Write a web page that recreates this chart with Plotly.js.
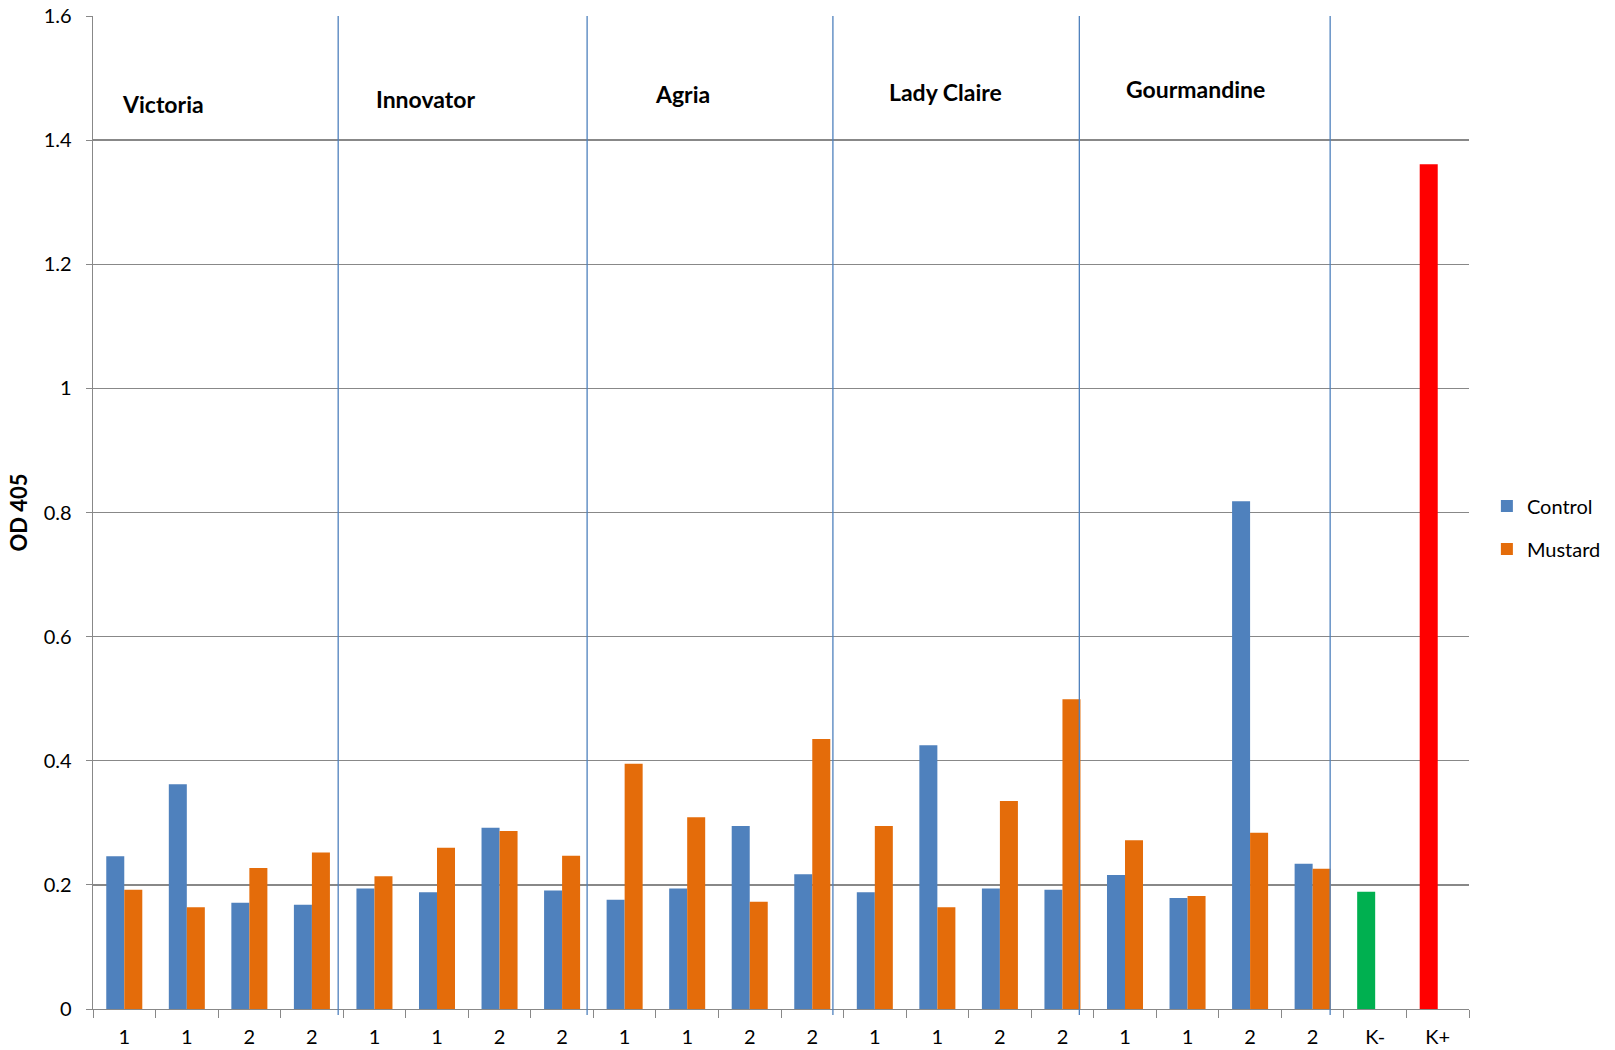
<!DOCTYPE html>
<html>
<head>
<meta charset="utf-8">
<script src="https://cdn.plot.ly/plotly-3.0.1.min.js"></script>
<style>html,body{margin:0;padding:0;background:#fff;overflow:hidden;}#chart{width:1615px;height:1050px;}</style>
</head>
<body>
<div id="chart"></div>
<script>
// Category ids (unique) and their tick labels
const categoryIds = ['V1a','V1b','V2a','V2b','I1a','I1b','I2a','I2b','A1a','A1b','A2a','A2b','L1a','L1b','L2a','L2b','G1a','G1b','G2a','G2b','Kneg','Kpos'];
const tickLabels = ['1','1','2','2','1','1','2','2','1','1','2','2','1','1','2','2','1','1','2','2','K-','K+'];
const groupNames = ['Victoria','Innovator','Agria','Lady Claire','Gourmandine'];

const controlValues = [0.246,0.362,0.171,0.168, 0.194,0.188,0.292,0.191, 0.176,0.194,0.295,0.217, 0.188,0.425,0.194,0.192, 0.216,0.179,0.818,0.234, 0.189,1.361];
const mustardValues = [0.192,0.164,0.227,0.252, 0.214,0.260,0.287,0.247, 0.395,0.309,0.173,0.435, 0.295,0.164,0.335,0.499, 0.272,0.182,0.284,0.226, null,null];

const blue = '#4F81BD', orange = '#E46C0A';
const controlColors = categoryIds.map(id => id==='Kneg' ? '#00B050' : (id==='Kpos' ? '#FF0000' : blue));

const font = 'Lato, "Open Sans", sans-serif';

const traces = [
  {type:'bar', name:'Control', legendgroup:'c', x:categoryIds, y:controlValues, marker:{color:controlColors}, hoverinfo:'y'},
  {type:'bar', name:'Mustard', legendgroup:'m', x:categoryIds, y:mustardValues, marker:{color:orange}, hoverinfo:'y'}
];

// separator positions (in category index units) and label placements
const sepX = [3.42, 7.40, 11.33, 15.27, 19.28];
const labelX = [0.0195, 0.2043, 0.4072, 0.5771, 0.7493];
const labelY = [1.459, 1.466, 1.474, 1.477, 1.482];

const shapes = sepX.map(x=>({type:'line', xref:'x', yref:'paper', x0:x, x1:x, y0:-0.006, y1:1, line:{color:'#4F81BD', width:1.3}}));
const annotations = groupNames.map((n,i)=>({text:'<b>'+n+'</b>', xref:'paper', yref:'y', x:labelX[i], y:labelY[i], xanchor:'left', yanchor:'middle', showarrow:false, font:{family:font, size:23, color:'#000'}}));

const layout = {
  width:1615, height:1050,
  margin:{l:93, r:146, t:16, b:41, autoexpand:false},
  paper_bgcolor:'#fff', plot_bgcolor:'#fff',
  font:{family:font, size:20, color:'#000'},
  barmode:'group', bargap:0.424, bargroupgap:0,
  showlegend:true,
  legend:{x:1.013, y:0.485, xanchor:'left', yanchor:'middle', font:{family:font, size:20, color:'#000'}, itemwidth:30, tracegroupgap:14, traceorder:'grouped'},
  xaxis:{type:'category', tickmode:'array', tickvals:categoryIds, ticktext:tickLabels, tickson:'boundaries', ticks:'outside', ticklen:8, tickcolor:'#888', showline:true, linecolor:'#888', linewidth:1.3, showgrid:false, zeroline:false, tickfont:{family:font, size:20}, ticklabelstandoff:10, range:[-0.5,21.5], fixedrange:true},
  yaxis:{range:[0,1.6], dtick:0.2, ticks:'outside', ticklen:6, tickcolor:'#888', showline:true, linecolor:'#888', linewidth:1.3, showgrid:true, gridcolor:'#888', gridwidth:1.3, zeroline:false, tickfont:{family:font, size:20}, ticklabelstandoff:10,
         title:{text:'<b>OD 405</b>', font:{family:font, size:22}, standoff:10}},
  shapes:shapes,
  annotations:annotations
};

Plotly.newPlot('chart', traces, layout, {displayModeBar:false, staticPlot:true});
</script>
</body>
</html>
